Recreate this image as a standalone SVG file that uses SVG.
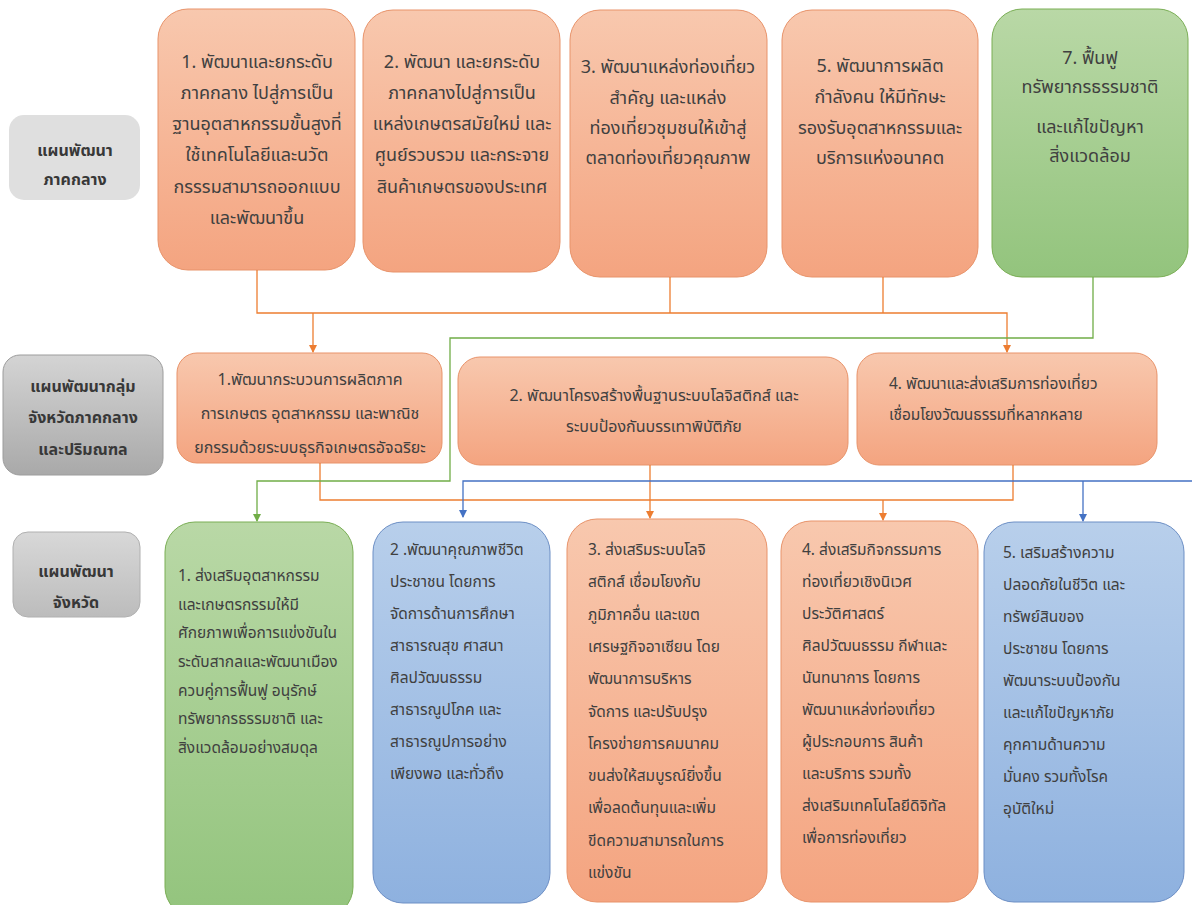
<svg xmlns="http://www.w3.org/2000/svg" width="1192" height="905" viewBox="0 0 1192 905">
<defs>
<linearGradient id="gO" x1="0" y1="0" x2="0" y2="1"><stop offset="0" stop-color="#f8c8ae"/><stop offset="1" stop-color="#f4a480"/></linearGradient>
<linearGradient id="gG" x1="0" y1="0" x2="0" y2="1"><stop offset="0" stop-color="#b9d8a6"/><stop offset="1" stop-color="#93c47d"/></linearGradient>
<linearGradient id="gB" x1="0" y1="0" x2="0" y2="1"><stop offset="0" stop-color="#b8cfeb"/><stop offset="1" stop-color="#8eb1df"/></linearGradient>
<linearGradient id="gL2" x1="0" y1="0" x2="0" y2="1"><stop offset="0" stop-color="#d4d4d4"/><stop offset="1" stop-color="#a9a9a9"/></linearGradient>
<linearGradient id="gL3" x1="0" y1="0" x2="0" y2="1"><stop offset="0" stop-color="#d8d8d8"/><stop offset="1" stop-color="#bcbcbc"/></linearGradient>
<marker id="aO" markerWidth="8" markerHeight="8" refX="4" refY="7" markerUnits="userSpaceOnUse" viewBox="0 0 8 8"><path d="M0,0 L8,0 L4,8 z" fill="#ed7d31"/></marker>
<marker id="aG" markerWidth="8" markerHeight="8" refX="4" refY="7" markerUnits="userSpaceOnUse" viewBox="0 0 8 8"><path d="M0,0 L8,0 L4,8 z" fill="#70ad47"/></marker>
<marker id="aB" markerWidth="8" markerHeight="8" refX="4" refY="7" markerUnits="userSpaceOnUse" viewBox="0 0 8 8"><path d="M0,0 L8,0 L4,8 z" fill="#4472c4"/></marker>
</defs>
<style>
text{font-family:"Noto Sans Thai","Noto Sans","DejaVu Sans",sans-serif;fill:#404040;dominant-baseline:central}
.o{fill:url(#gO);stroke:#e8936a;stroke-width:1}
.g{fill:url(#gG);stroke:#7aae55;stroke-width:1}
.b{fill:url(#gB);stroke:#6d8fc5;stroke-width:1}
.t1{font-size:18px;text-anchor:middle}
.t2{font-size:16px}
.t2s{font-size:15.5px}
.c{text-anchor:middle}
.t3{font-size:15.5px}
.lab{font-size:16px;font-weight:bold;fill:#383838;text-anchor:middle}
.lo{fill:none;stroke:#ed7d31;stroke-width:1.3}
.lg{fill:none;stroke:#70ad47;stroke-width:1.3}
.lb{fill:none;stroke:#4472c4;stroke-width:1.3}
</style>
<rect width="1192" height="905" fill="#ffffff"/>

<g id="label-region">
<rect x="9" y="115" width="131" height="85" rx="15" fill="#dfdfdf"/>
<text class="lab" x="75" y="151">แผนพัฒนา</text>
<text class="lab" x="75" y="180">ภาคกลาง</text>
</g>
<g id="label-cluster">
<rect x="3" y="355" width="160" height="120" rx="17" fill="url(#gL2)" stroke="#9c9c9c"/>
<text class="lab" x="83" y="387">แผนพัฒนากลุ่ม</text>
<text class="lab" x="83" y="418">จังหวัดภาคกลาง</text>
<text class="lab" x="83" y="450">และปริมณฑล</text>
</g>
<g id="label-province">
<rect x="13" y="532" width="127" height="85" rx="15" fill="url(#gL3)" stroke="#b0b0b0"/>
<text class="lab" x="76" y="572">แผนพัฒนา</text>
<text class="lab" x="76" y="603">จังหวัด</text>
</g>

<g id="top1">
<rect class="o" x="158" y="9" width="197" height="261" rx="30"/>
<text class="t1" x="257" y="62">1. พัฒนาและยกระดับ</text>
<text class="t1" x="257" y="93">ภาคกลาง ไปสู่การเป็น</text>
<text class="t1" x="257" y="124">ฐานอุตสาหกรรมขั้นสูงที่</text>
<text class="t1" x="257" y="155">ใช้เทคโนโลยีและนวัต</text>
<text class="t1" x="257" y="187">กรรรมสามารถออกแบบ</text>
<text class="t1" x="257" y="218">และพัฒนาขึ้น</text>
</g>
<g id="top2">
<rect class="o" x="363" y="10" width="197" height="262" rx="30"/>
<text class="t1" x="462" y="62">2. พัฒนา และยกระดับ</text>
<text class="t1" x="462" y="93">ภาคกลางไปสู่การเป็น</text>
<text class="t1" x="462" y="124">แหล่งเกษตรสมัยใหม่ และ</text>
<text class="t1" x="462" y="155">ศูนย์รวบรวม และกระจาย</text>
<text class="t1" x="462" y="187">สินค้าเกษตรของประเทศ</text>
</g>
<g id="top3">
<rect class="o" x="570" y="10" width="197" height="267" rx="30"/>
<text class="t1" x="668" y="67">3. พัฒนาแหล่งท่องเที่ยว</text>
<text class="t1" x="668" y="98">สำคัญ และแหล่ง</text>
<text class="t1" x="668" y="128">ท่องเที่ยวชุมชนให้เข้าสู่</text>
<text class="t1" x="668" y="158">ตลาดท่องเที่ยวคุณภาพ</text>
</g>
<g id="top5">
<rect class="o" x="782" y="10" width="196" height="267" rx="30"/>
<text class="t1" x="880" y="66">5. พัฒนาการผลิต</text>
<text class="t1" x="880" y="97">กำลังคน ให้มีทักษะ</text>
<text class="t1" x="880" y="128">รองรับอุตสาหกรรมและ</text>
<text class="t1" x="880" y="158">บริการแห่งอนาคต</text>
</g>
<g id="top7">
<rect class="g" x="992" y="9" width="196" height="268" rx="30"/>
<text class="t1" x="1090" y="58">7. ฟื้นฟู</text>
<text class="t1" x="1090" y="87">ทรัพยากรธรรมชาติ</text>
<text class="t1" x="1090" y="127">และแก้ไขปัญหา</text>
<text class="t1" x="1090" y="156">สิ่งแวดล้อม</text>
</g>

<g id="mid1">
<rect class="o" x="177" y="353" width="265" height="110" rx="20"/>
<text class="t2 c" x="310" y="380">1.พัฒนากระบวนการผลิตภาค</text>
<text class="t2 c" x="310" y="414">การเกษตร อุตสาหกรรม และพาณิช</text>
<text class="t2 c" x="310" y="448">ยกรรมด้วยระบบธุรกิจเกษตรอัจฉริยะ</text>
</g>
<g id="mid2">
<rect class="o" x="458" y="357" width="390" height="108" rx="22"/>
<text class="t2 c" x="654" y="396">2. พัฒนาโครงสร้างพื้นฐานระบบโลจิสติกส์ และ</text>
<text class="t2 c" x="654" y="427">ระบบป้องกันบรรเทาพิบัติภัย</text>
</g>
<g id="mid4">
<rect class="o" x="857" y="353" width="300" height="112" rx="22"/>
<text class="t2s" x="889" y="384">4. พัฒนาและส่งเสริมการท่องเที่ยว</text>
<text class="t2s" x="889" y="415">เชื่อมโยงวัฒนธรรมที่หลากหลาย</text>
</g>

<g id="bot1">
<rect class="g" x="165" y="522" width="188" height="395" rx="30"/>
<text class="t3" x="178" y="576">1. ส่งเสริมอุตสาหกรรม</text>
<text class="t3" x="178" y="605">และเกษตรกรรมให้มี</text>
<text class="t3" x="178" y="633">ศักยภาพเพื่อการแข่งขันใน</text>
<text class="t3" x="178" y="662">ระดับสากลและพัฒนาเมือง</text>
<text class="t3" x="178" y="691">ควบคู่การฟื้นฟู อนุรักษ์</text>
<text class="t3" x="178" y="719">ทรัพยากรธรรมชาติ และ</text>
<text class="t3" x="178" y="748">สิ่งแวดล้อมอย่างสมดุล</text>
</g>
<g id="bot2">
<rect class="b" x="373" y="522" width="177" height="381" rx="30"/>
<text class="t3" x="390" y="550">2 .พัฒนาคุณภาพชีวิต</text>
<text class="t3" x="390" y="582">ประชาชน โดยการ</text>
<text class="t3" x="390" y="614">จัดการด้านการศึกษา</text>
<text class="t3" x="390" y="646">สาธารณสุข ศาสนา</text>
<text class="t3" x="390" y="678">ศิลปวัฒนธรรม</text>
<text class="t3" x="390" y="710">สาธารณูปโภค และ</text>
<text class="t3" x="390" y="742">สาธารณูปการอย่าง</text>
<text class="t3" x="390" y="774">เพียงพอ และทั่วถึง</text>
</g>
<g id="bot3">
<rect class="o" x="567" y="519" width="200" height="383" rx="30"/>
<text class="t3" x="588" y="550">3. ส่งเสริมระบบโลจิ</text>
<text class="t3" x="588" y="582">สติกส์ เชื่อมโยงกับ</text>
<text class="t3" x="588" y="615">ภูมิภาคอื่น และเขต</text>
<text class="t3" x="588" y="647">เศรษฐกิจอาเซียน โดย</text>
<text class="t3" x="588" y="679">พัฒนาการบริหาร</text>
<text class="t3" x="588" y="712">จัดการ และปรับปรุง</text>
<text class="t3" x="588" y="744">โครงข่ายการคมนาคม</text>
<text class="t3" x="588" y="776">ขนส่งให้สมบูรณ์ยิ่งขึ้น</text>
<text class="t3" x="588" y="808">เพื่อลดต้นทุนและเพิ่ม</text>
<text class="t3" x="588" y="841">ขีดความสามารถในการ</text>
<text class="t3" x="588" y="873">แข่งขัน</text>
</g>
<g id="bot4">
<rect class="o" x="781" y="521" width="197" height="381" rx="30"/>
<text class="t3" x="802" y="550">4. ส่งเสริมกิจกรรมการ</text>
<text class="t3" x="802" y="582">ท่องเที่ยวเชิงนิเวศ</text>
<text class="t3" x="802" y="614">ประวัติศาสตร์</text>
<text class="t3" x="802" y="646">ศิลปวัฒนธรรม กีฬาและ</text>
<text class="t3" x="802" y="678">นันทนาการ โดยการ</text>
<text class="t3" x="802" y="710">พัฒนาแหล่งท่องเที่ยว</text>
<text class="t3" x="802" y="742">ผู้ประกอบการ สินค้า</text>
<text class="t3" x="802" y="774">และบริการ รวมทั้ง</text>
<text class="t3" x="802" y="806">ส่งเสริมเทคโนโลยีดิจิทัล</text>
<text class="t3" x="802" y="838">เพื่อการท่องเที่ยว</text>
</g>
<g id="bot5">
<rect class="b" x="984" y="522" width="200" height="380" rx="30"/>
<text class="t3" x="1003" y="553">5. เสริมสร้างความ</text>
<text class="t3" x="1003" y="585">ปลอดภัยในชีวิต และ</text>
<text class="t3" x="1003" y="617">ทรัพย์สินของ</text>
<text class="t3" x="1003" y="649">ประชาชน โดยการ</text>
<text class="t3" x="1003" y="681">พัฒนาระบบป้องกัน</text>
<text class="t3" x="1003" y="713">และแก้ไขปัญหาภัย</text>
<text class="t3" x="1003" y="745">คุกคามด้านความ</text>
<text class="t3" x="1003" y="777">มั่นคง รวมทั้งโรค</text>
<text class="t3" x="1003" y="809">อุบัติใหม่</text>
</g>

<g id="connectors">
<path class="lo" d="M257,270 V313 H1007 V352" marker-end="url(#aO)"/>
<path class="lo" d="M313,313 V352" marker-end="url(#aO)"/>
<path class="lo" d="M670,277 V313"/>
<path class="lo" d="M883,277 V313"/>
<path class="lo" d="M320,463 V500 H1013 V465"/>
<path class="lo" d="M650,465 V518" marker-end="url(#aO)"/>
<path class="lo" d="M883,500 V520" marker-end="url(#aO)"/>
<path class="lg" d="M1093,277 V338 H450 V481 H257 V521" marker-end="url(#aG)"/>
<path class="lb" d="M1192,481 H463 V517" marker-end="url(#aB)"/>
<path class="lb" d="M1083,481 V521" marker-end="url(#aB)"/>
</g>
</svg>
